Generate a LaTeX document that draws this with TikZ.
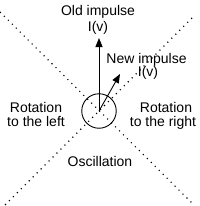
\documentclass[tikz,border=0pt]{standalone}
\usepackage{fontspec}
\setmainfont{Liberation Sans}
\usetikzlibrary{arrows.meta}
\begin{document}
\begin{tikzpicture}[x=1pt,y=-1pt,
  lbl/.style={anchor=base,inner sep=0pt,font=\fontsize{14}{14}\selectfont},
  diag/.style={line width=1.1pt,dash pattern=on 1.1pt off 4.5pt},
  imp/.style={line width=0.9pt,-{Triangle[length=9pt,width=7pt]}}]
\useasboundingbox (0,0) rectangle (200,206);
\coordinate (c) at (99,111);
\coordinate (tl) at (0,12);
\coordinate (br) at (192,203);
\coordinate (tr) at (192,18);
\coordinate (bl) at (5,205);
\draw[diag] (tl) -- (br);
\draw[diag] (tr) -- (bl);
\node[draw,circle,minimum size=34.5pt,inner sep=0pt,line width=0.9pt] (ring) at (c) {};
\coordinate (oldtip) at (99,38);
\coordinate (newtip) at (120,74);
\draw[imp] (c) -- (oldtip);
\draw[imp] (c) -- (newtip);
\node[lbl] (old1) at (98,16) {Old impulse};
\node[lbl] (old2) at (98,31) {I(v)};
\node[lbl] (new1) at (146.5,63) {New impulse};
\node[lbl] (new2) at (148,76) {I(v)};
\node[lbl] (rl1) at (36,112) {Rotation};
\node[lbl] (rl2) at (36,126) {to the left};
\node[lbl] (rr1) at (166,112) {Rotation};
\node[lbl] (rr2) at (163,126) {to the right};
\node[lbl] (osc) at (100,166.5) {Oscillation};
\end{tikzpicture}
\end{document}
